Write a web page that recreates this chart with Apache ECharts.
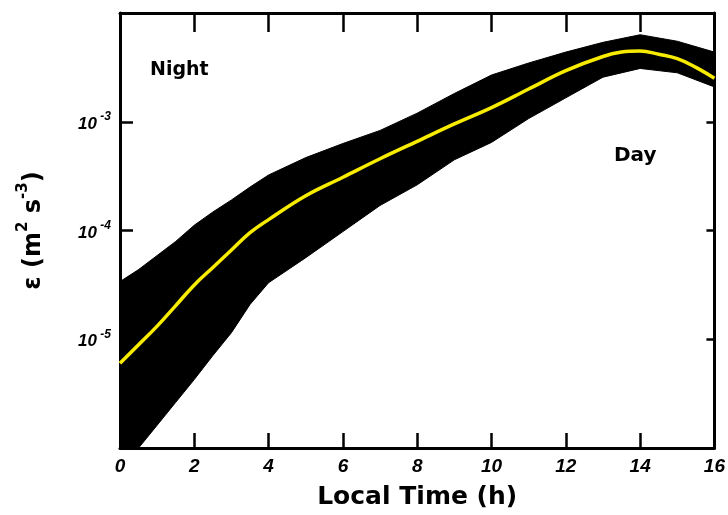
<!DOCTYPE html>
<html><head><meta charset="utf-8">
<script src="https://cdn.jsdelivr.net/npm/echarts@6/dist/echarts.min.js"></script>
<style>html,body{margin:0;padding:0;background:#fff}#c{width:728px;height:515px}</style>
</head><body><div id="c"></div>
<script>
// Local time (h) for the band envelope
const hours = [0,0.5,1,1.5,2,2.5,3,3.5,4,5,6,7,8,9,10,11,12,13,14,15,16];
// Upper envelope of the scatter band (m^2 s^-3)
const upperBound = [3.39e-5,4.37e-5,5.89e-5,7.94e-5,1.12e-4,1.48e-4,1.91e-4,2.51e-4,3.24e-4,4.68e-4,6.31e-4,8.32e-4,1.20e-3,1.82e-3,2.69e-3,3.47e-3,4.37e-3,5.37e-3,6.31e-3,5.50e-3,4.37e-3];
// Lower envelope of the scatter band
const lowerBound = [1.0e-6,1.0e-6,1.62e-6,2.63e-6,4.27e-6,7.08e-6,1.15e-5,2.09e-5,3.31e-5,5.62e-5,9.77e-5,1.70e-4,2.63e-4,4.47e-4,6.46e-4,1.07e-3,1.66e-3,2.57e-3,3.09e-3,2.82e-3,2.09e-3];
// Yellow fitted curve
const curveHours = [0,0.5,1,1.5,2,2.5,3,3.5,4,5,6,7,8,9,10,11,12,13,13.5,14,14.5,15,15.5,16];
const meanEps = [6.03e-6,8.91e-6,1.32e-5,2.04e-5,3.16e-5,4.57e-5,6.61e-5,9.55e-5,1.26e-4,2.09e-4,3.09e-4,4.57e-4,6.61e-4,9.55e-4,1.35e-3,2.0e-3,2.95e-3,3.98e-3,4.37e-3,4.47e-3,4.17e-3,3.80e-3,3.16e-3,2.51e-3];
// Labelled y decades (exponents)
const yLabelExps = [-5,-4,-3];

const chart = echarts.init(document.getElementById('c'), null, {renderer:'canvas'});
const fam = '"Liberation Sans", Arial, sans-serif';
const famB = '"DejaVu Sans", "Liberation Sans", sans-serif';
const labelRich = {
  b:{fontSize:17,fontStyle:'italic',fontWeight:'bold',fontFamily:fam,color:'#000',lineHeight:22,verticalAlign:'bottom'},
  s:{fontSize:12,fontStyle:'italic',fontWeight:'bold',fontFamily:fam,color:'#000',lineHeight:22,verticalAlign:'top'}
};
const bandPoints = hours.map((h,i)=>[h, upperBound[i], lowerBound[i]]);

chart.setOption({
  animation:false,
  backgroundColor:'#fff',
  grid:{left:120,right:8,top:13,bottom:67},
  xAxis:[{
    type:'value',min:0,max:16,interval:2,position:'bottom',
    axisLine:{show:true,onZero:false,lineStyle:{color:'#000',width:3}},
    axisTick:{show:true,inside:true,length:15,lineStyle:{color:'#000',width:2.5}},
    axisLabel:{margin:9,color:'#000',fontSize:19,fontStyle:'italic',fontWeight:'bold',fontFamily:fam},
    splitLine:{show:false},
    name:'Local Time (h)',nameLocation:'middle',nameGap:37,
    nameTextStyle:{fontSize:25,fontWeight:'bold',fontFamily:famB,color:'#000',verticalAlign:'top'}
  },{
    type:'value',min:0,max:16,interval:2,position:'top',
    axisLine:{show:true,onZero:false,lineStyle:{color:'#000',width:3}},
    axisTick:{show:true,inside:true,length:19,lineStyle:{color:'#000',width:2.5}},
    axisLabel:{show:false},splitLine:{show:false}
  }],
  yAxis:[{
    type:'log',logBase:10,min:1e-6,max:1e-2,position:'left',
    axisLine:{show:true,onZero:false,lineStyle:{color:'#000',width:3}},
    axisTick:{show:true,inside:true,length:13,lineStyle:{color:'#000',width:2.5}},
    axisLabel:{margin:9,formatter:function(v){
      const e=Math.round(Math.log10(v));
      return yLabelExps.indexOf(e)>=0 ? '{b|10}{s| '+e+'}' : '';
    },rich:labelRich},
    splitLine:{show:false},
    name:'{a|ε (m}{s|2}{a| s}{s|-3}{a|)}',nameLocation:'middle',nameGap:74,nameRotate:90,
    nameTextStyle:{fontSize:24,fontWeight:'bold',fontFamily:famB,color:'#000',
      rich:{
        a:{fontSize:24,fontWeight:'bold',fontFamily:famB,color:'#000',lineHeight:30,verticalAlign:'bottom'},
        s:{fontSize:15,fontWeight:'bold',fontFamily:famB,color:'#000',lineHeight:30,verticalAlign:'top'}
      }}
  },{
    type:'log',logBase:10,min:1e-6,max:1e-2,position:'right',
    axisLine:{show:true,onZero:false,lineStyle:{color:'#000',width:3}},
    axisTick:{show:true,inside:true,length:8,lineStyle:{color:'#000',width:2.5}},
    axisLabel:{show:false},splitLine:{show:false}
  }],
  series:[{
    type:'custom',
    xAxisIndex:0,yAxisIndex:0,
    data:[0],
    z:2,
    renderItem:function(params,api){
      const up = bandPoints.map(p=>api.coord([p[0],p[1]]));
      const lo = bandPoints.map(p=>api.coord([p[0],p[2]])).reverse();
      return {type:'polygon',shape:{points:up.concat(lo)},style:{fill:'#000',stroke:'#000',lineWidth:1}};
    },
    silent:true
  },{
    type:'line',xAxisIndex:0,yAxisIndex:0,
    data:curveHours.map((h,i)=>[h,meanEps[i]]),
    smooth:0.4,symbol:'none',z:5,
    lineStyle:{color:'#f7ec00',width:3.5}
  }],
  graphic:[
    {type:'text',left:150,top:61,style:{text:'Night',font:'bold 19px '+famB,fill:'#000'}},
    {type:'text',left:614,top:146,style:{text:'Day',font:'bold 20px '+famB,fill:'#000'}}
  ]
});
</script></body></html>
